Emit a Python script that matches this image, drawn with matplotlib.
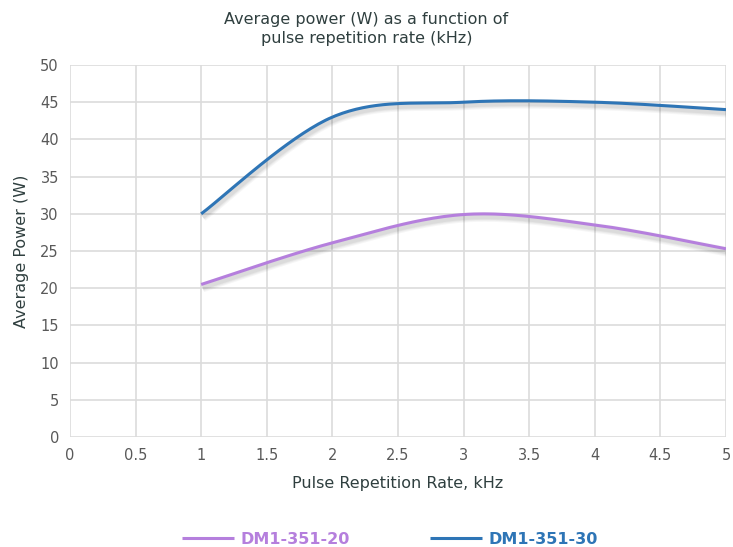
import numpy as np
import matplotlib
matplotlib.use("Agg")
import matplotlib.pyplot as plt
import matplotlib.patheffects as pe

x = [1, 2, 3, 4, 5]
dm20 = [20.5, 26.1, 29.9, 28.5, 25.3]
dm30 = [30.0, 43.0, 45.0, 45.0, 44.0]
labels = ["DM1-351-20", "DM1-351-30"]
colors = ["#B57FDD", "#2E75B6"]
xticks = [0, 0.5, 1, 1.5, 2, 2.5, 3, 3.5, 4, 4.5, 5]
yticks = list(range(0, 55, 5))


def smooth(xs, ys, n=40):
    # Excel-like smoothed line (Catmull-Rom Bezier)
    xs = np.asarray(xs, float); ys = np.asarray(ys, float)
    P = np.column_stack([xs, ys])
    Pe = np.vstack([P[0], P, P[-1]])
    out = []
    for i in range(len(P) - 1):
        p0, p1, p2, p3 = Pe[i], Pe[i + 1], Pe[i + 2], Pe[i + 3]
        c1 = p1 + (p2 - p0) / 6
        c2 = p2 - (p3 - p1) / 6
        t = np.linspace(0, 1, n)[:, None]
        seg = ((1 - t) ** 3) * p1 + 3 * ((1 - t) ** 2) * t * c1 + 3 * (1 - t) * t ** 2 * c2 + t ** 3 * p2
        out.append(seg if i == 0 else seg[1:])
    s = np.vstack(out)
    return s[:, 0], s[:, 1]


fig = plt.figure(figsize=(7.33, 5.47), dpi=100)
ax = fig.add_axes([70 / 733, 1 - 437 / 547, 656 / 733, 372 / 547])

shadow = [pe.SimpleLineShadow(offset=(1, -2.2), shadow_color="black", alpha=0.035, linewidth=w)
          for w in (7, 5.5, 4.2, 3.2)] + [pe.Normal()]
for ys, lab, c in [(dm20, labels[0], colors[0]), (dm30, labels[1], colors[1])]:
    sx, sy = smooth(x, ys)
    ax.plot(sx, sy, color=c, lw=2.2, label=lab, path_effects=shadow, solid_capstyle="butt", zorder=3)

ax.set_xlim(0, 5)
ax.set_ylim(0, 50)
ax.set_xticks(xticks)
ax.set_xticklabels([f"{v:g}" for v in xticks])
ax.set_yticks(yticks)
ax.grid(True, color="#DCDCDC", lw=1.2)
ax.set_axisbelow(True)
for s in ax.spines.values():
    s.set_visible(False)
ax.tick_params(length=0, colors="#595959", labelsize=10.5, pad=8)

ax.set_xlabel("Pulse Repetition Rate, kHz", fontsize=11.5, color="#2F3F3F", labelpad=9)
ax.set_ylabel("Average Power (W)", fontsize=11.5, color="#2F3F3F", labelpad=8)
fig.text(0.5, 1 - 29 / 547, "Average power (W) as a function of\npulse repetition rate (kHz)",
         ha="center", va="center", fontsize=11.5, color="#2F3F3F", linespacing=1.35)

leg = fig.legend(loc="center", bbox_to_anchor=(390 / 733, 1 - 539 / 547), ncol=2, frameon=False,
                 handlelength=3.25, handletextpad=0.4, columnspacing=5.0,
                 prop={"weight": "bold", "size": 11.5})
for t, c in zip(leg.get_texts(), colors):
    t.set_color(c)
for h in leg.get_lines():
    h.set_path_effects([])

fig.savefig("out.png", dpi=100)
